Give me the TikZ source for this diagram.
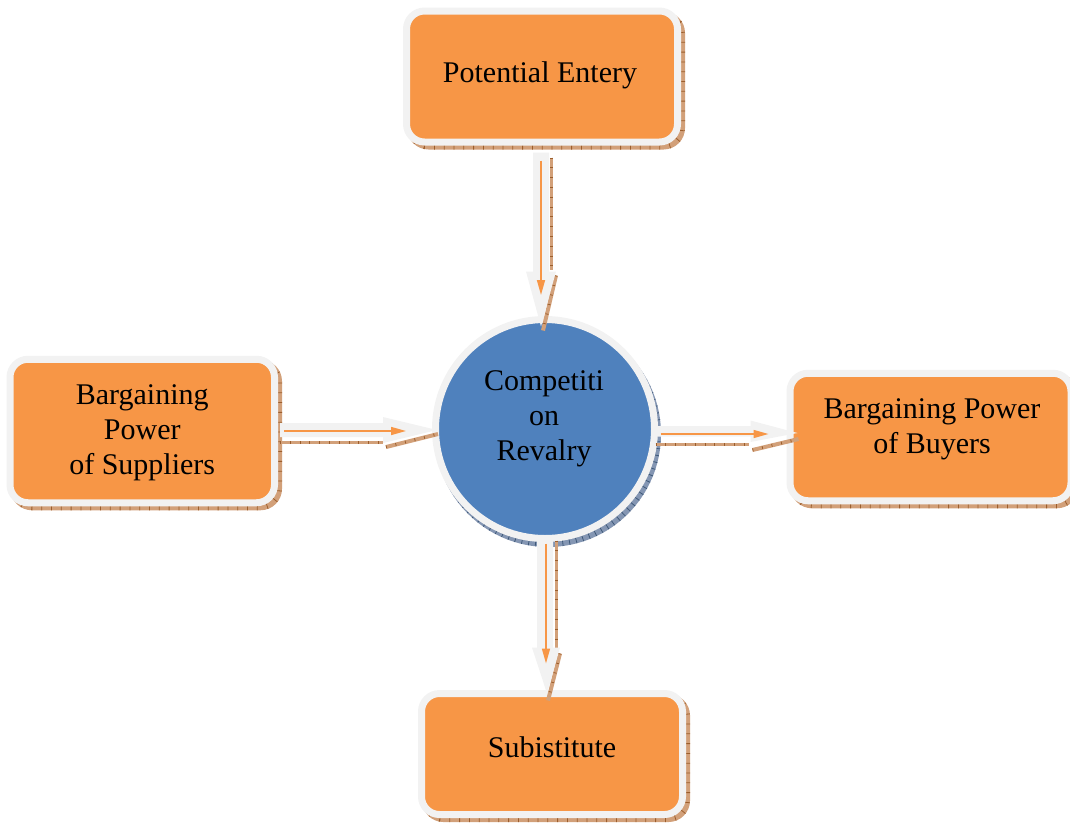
\documentclass[tikz,border=0pt]{standalone}
\usepackage{fontspec}
\setmainfont{Liberation Serif}
\usetikzlibrary{calc,arrows.meta}
\definecolor{boxorange}{HTML}{F79646}
\definecolor{ringgray}{HTML}{F2F2F2}
\definecolor{shadowbrown}{HTML}{D2A079}
\definecolor{tickbrown}{HTML}{9C5E2C}
\definecolor{circblue}{HTML}{4F81BD}
\definecolor{shadowblue}{HTML}{8496B3}
\definecolor{tickblue}{HTML}{3E5878}
\begin{document}
\begin{tikzpicture}[x=1pt,y=-1pt,
  boxshape/.style={rectangle, rounded corners=18pt, fill=boxorange, draw=ringgray,
    line width=7pt, outer sep=0pt, inner sep=0pt,
    preaction={draw=shadowbrown, line width=7pt, transform canvas={shift={(4pt,-4pt)}}},
    preaction={draw=tickbrown, line width=7pt, dash pattern=on 0.8pt off 9pt,
      transform canvas={shift={(4pt,-4pt)}}}},
  circshape/.style={circle, fill=circblue, draw=ringgray, line width=7pt,
    outer sep=0pt, inner sep=0pt,
    preaction={draw=shadowblue, line width=7pt, transform canvas={shift={(3pt,-5pt)}}},
    preaction={draw=tickblue, line width=7pt, dash pattern=on 0.8pt off 6pt,
      transform canvas={shift={(3pt,-5pt)}}}},
  lbl/.style={align=center, inner sep=0pt, font=\fontsize{30}{35}\selectfont},
  graybody/.style={fill=ringgray, draw=none},
  orangeline/.style={draw=boxorange, line width=1.5pt, -{Triangle[width=8pt,length=15pt]}},
  brownline/.style={draw=shadowbrown, line width=3pt,
    postaction={draw=tickbrown, line width=3pt, dash pattern=on 0.8pt off 9pt}}
]
\useasboundingbox (0,0) rectangle (1070,823);

% shapes
\node[boxshape, minimum width=271pt, minimum height=131pt] (pe) at (542,76.5) {};
\node[boxshape, minimum width=264.5pt, minimum height=143.5pt] (sup) at (142.25,431) {};
\node[boxshape, minimum width=281pt, minimum height=127.5pt] (buy) at (930.5,437) {};
\node[boxshape, minimum width=261pt, minimum height=121pt] (sub) at (552,754) {};
\node[circshape, minimum size=219pt] (comp) at (545,429) {};

% labels
\node[lbl] (pe-t) at ($(pe)+(-2,-1)$) {Potential Entery};
\node[lbl] (sup-t) at ($(sup)+(0,2)$) {Bargaining\\Power\\of Suppliers};
\node[lbl] (buy-t) at ($(buy)+(1.5,-7.5)$) {Bargaining Power\\of Buyers};
\node[lbl] (sub-t) at ($(sub)+(0,-7)$) {Subistitute};
\node[lbl] (comp-t) at ($(comp)+(-1,-10)$) {Competiti\\on\\Revalry};

% top arrow: pe -> comp
\begin{scope}[shift={(pe.south)}]
  \draw[brownline] (9,15.5) -- (9,127.5);
  \draw[brownline, line width=4pt] (14,133.5) -- (1,188.5);
  \fill[graybody] (-9,10.5) -- (7,10.5) -- (7,129.5) -- (14,129.5) -- (-1,184.5)
    -- (-16,129.5) -- (-9,129.5) -- cycle;
  \draw[orangeline] (-1,18.5) -- (-1,153);
\end{scope}

% left arrow: sup -> comp
\begin{scope}[shift={(sup.east)}]
  \draw[brownline] (5.5,11) -- (108.5,11);
  \draw[brownline, line width=4pt] (111.5,16) -- (163.5,3);
  \fill[graybody] (5.5,-8) -- (108.5,-8) -- (108.5,-14) -- (162.5,-1) -- (108.5,12)
    -- (108.5,6) -- (5.5,6) -- cycle;
  \draw[orangeline] (9.5,0) -- (131.5,0);
\end{scope}

% right arrow: comp -> buy
\begin{scope}[shift={(comp.east)}]
  \draw[brownline] (1,15) -- (94,15);
  \draw[brownline, line width=4pt] (98,21) -- (144,10);
  \fill[graybody] (3,-3) -- (96,-3) -- (96,-8.5) -- (143,4) -- (96,13) -- (96,7.7)
    -- (3,7.7) -- cycle;
  \draw[orangeline] (6,5) -- (114,5);
\end{scope}

% bottom arrow: comp -> sub
\begin{scope}[shift={(comp.south)}]
  \draw[brownline] (11,2) -- (11,114);
  \draw[brownline, line width=4pt] (15,115) -- (3,162);
  \fill[graybody] (-8,2) -- (8,2) -- (8,109) -- (15,109) -- (2,155) -- (-13,109)
    -- (-8,109) -- cycle;
  \draw[orangeline] (1,5) -- (1,125);
\end{scope}
\end{tikzpicture}
\end{document}
